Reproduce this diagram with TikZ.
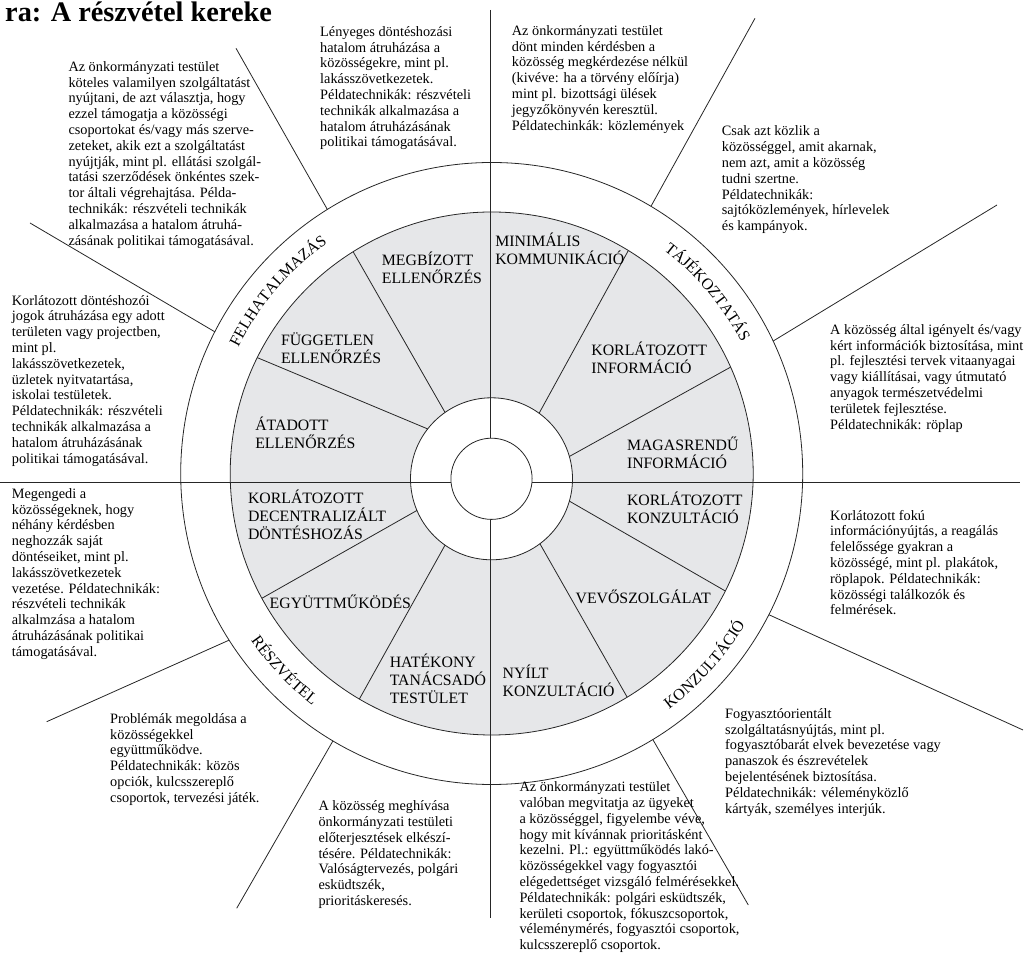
\documentclass[tikz,border=0pt]{standalone}
\usepackage{fontspec}
\setmainfont{Liberation Serif}
\usetikzlibrary{calc,decorations.text}
\definecolor{wheelgray}{RGB}{230,231,233}
\newcommand{\firstline}{\rule{0pt}{16pt}}
\newcommand{\ringfont}{\fontsize{16}{18}\selectfont}
\lineskiplimit=-\maxdimen
\begin{document}
\begin{tikzpicture}[x=1pt,y=1pt,
    wheel/.style={draw=black!85,line width=0.8pt},
    desc/.style={anchor=north west,inner sep=0pt,align=left,
      font=\fontsize{14.3}{15.8}\selectfont},
    seg/.style={anchor=north west,inner sep=0pt,align=left,
      font=\fontsize{15.8}{18}\selectfont}]
  \useasboundingbox (0,0) rectangle (1028,977);
  \coordinate (co) at (491.7,503.5);
  \coordinate (ci) at (491.5,498.2);
  % wheel
  \fill[wheelgray] (co) circle (261.5);
  \draw[wheel] (co) circle (261.5);
  \filldraw[wheel,fill=white] (ci) circle (81);
  \foreach \ra/\ga in {16/24, 54/58.5, 125/122, 142/153.7, 203/208.5,
                       235/239.6, 306.7/301.2, 344/333.3}
    \draw[wheel] ($(ci)+(\ra:81)$) -- ($(co)+(\ga:261.5)$);
  \draw[wheel] (co) circle (311);
  \foreach \a/\ex/\ey in {59.2/755/958.7, 25.2/997/772, -27/1023/247,
                          -58.8/748.3/72, 239.3/236.7/68.7, 212.4/46.7/255.3,
                          152.9/30/754, 121.9/236/928.7}
    \draw[wheel] ($(co)+(\a:311)$) -- (\ex,\ey);
  \draw[wheel] (490.7,967) -- (490.7,59);
  \draw[wheel] (0,495) -- (1020,495);
  \filldraw[wheel,fill=white] (ci) circle (40.6);
  % ring labels
  \path[decorate,decoration={text along path,text align=center,
      text={|\ringfont|FELHATALMAZÁS}}]
    ($(co)+(159.5:283)$) arc[start angle=159.5,end angle=119.5,radius=283];
  \path[decorate,decoration={text along path,text align=center,
      text={|\ringfont|TÁJÉKOZTATÁS}}]
    ($(co)+(60:282)$) arc[start angle=60,end angle=20,radius=282];
  \path[decorate,decoration={text along path,text align=center,
      text={|\ringfont|KONZULTÁCIÓ}}]
    ($(co)+(-61.9:295)$) arc[start angle=-61.9,end angle=-21.9,radius=295];
  \path[decorate,decoration={text along path,text align=center,
      text={|\ringfont|RÉSZVÉTEL}}]
    ($(co)+(203.5:293)$) arc[start angle=203.5,end angle=243.5,radius=293];
  % segment labels
  \node[seg] (s1) at (495.1,747) {\firstline MINIMÁLIS\\KOMMUNIKÁCIÓ};
  \node[seg] (s2) at (591.2,637.2) {\firstline KORLÁTOZOTT\\INFORMÁCIÓ};
  \node[seg] (s3) at (626.8,543) {\firstline MAGASRENDŰ\\INFORMÁCIÓ};
  \node[seg] (s4) at (626.8,487.9) {\firstline KORLÁTOZOTT\\KONZULTÁCIÓ};
  \node[seg] (s5) at (575.4,389.2) {\firstline VEVŐSZOLGÁLAT};
  \node[seg] (s6) at (502.5,314.6) {\firstline NYÍLT\\KONZULTÁCIÓ};
  \node[seg] (s7) at (389.6,326) {\firstline HATÉKONY\\TANÁCSADÓ\\TESTÜLET};
  \node[seg] (s8) at (269.5,384.2) {\firstline EGYÜTTMŰKÖDÉS};
  \node[seg] (s9) at (247.8,489.8) {\firstline KORLÁTOZOTT\\DECENTRALIZÁLT\\DÖNTÉSHOZÁS};
  \node[seg] (s10) at (255.1,562.2) {\firstline ÁTADOTT\\ELLENŐRZÉS};
  \node[seg] (s11) at (280.8,647.5) {\firstline FÜGGETLEN\\ELLENŐRZÉS};
  \node[seg] (s12) at (381.7,727.8) {\firstline MEGBÍZOTT\\ELLENŐRZÉS};
  % title
  \node[anchor=base west,inner sep=0pt,font=\fontsize{28.3}{32}\selectfont\bfseries]
    (title) at (5,955) {ra: A részvétel kereke};
  % descriptions
  \node[desc] (d1) at (68.3,921.8) {\firstline Az önkormányzati testület\\
    köteles valamilyen szolgáltatást\\
    nyújtani, de azt választja, hogy\\
    ezzel támogatja a közösségi\\
    csoportokat és/vagy más szerve-\\
    zeteket, akik ezt a szolgáltatást\\
    nyújtják, mint pl. ellátási szolgál-\\
    tatási szerződések önkéntes szek-\\
    tor általi végrehajtása. Példa-\\
    technikák: részvételi technikák\\
    alkalmazása a hatalom átruhá-\\
    zásának politikai támogatásával.};
  \node[desc] (d2) at (320,956.8) {\firstline Lényeges döntéshozási\\
    hatalom átruházása a\\
    közösségekre, mint pl.\\
    lakásszövetkezetek.\\
    Példatechnikák: részvételi\\
    technikák alkalmazása a\\
    hatalom átruházásának\\
    politikai támogatásával.};
  \node[desc] (d3) at (511.7,957.8) {\firstline Az önkormányzati testület\\
    dönt minden kérdésben a\\
    közösség megkérdezése nélkül\\
    (kivéve: ha a törvény előírja)\\
    mint pl. bizottsági ülések\\
    jegyzőkönyvén keresztül.\\
    Példatechinkák: közlemények};
  \node[desc] (d4) at (721.7,857.3) {\firstline Csak azt közlik a\\
    közösséggel, amit akarnak,\\
    nem azt, amit a közösség\\
    tudni szertne.\\
    Példatechnikák:\\
    sajtóközlemények, hírlevelek\\
    és kampányok.};
  \node[desc] (d5) at (830,658.8) {\firstline A közösség által igényelt és/vagy\\
    kért információk biztosítása, mint\\
    pl. fejlesztési tervek vitaanyagai\\
    vagy kiállításai, vagy útmutató\\
    anyagok természetvédelmi\\
    területek fejlesztése.\\
    Példatechnikák: röplap};
  \node[desc] (d6) at (830,473.1) {\firstline Korlátozott fokú\\
    információnyújtás, a reagálás\\
    felelőssége gyakran a\\
    közösségé, mint pl. plakátok,\\
    röplapok. Példatechnikák:\\
    közösségi találkozók és\\
    felmérések.};
  \node[desc] (d7) at (725,274.8) {\firstline Fogyasztóorientált\\
    szolgáltatásnyújtás, mint pl.\\
    fogyasztóbarát elvek bevezetése vagy\\
    panaszok és észrevételek\\
    bejelentésének biztosítása.\\
    Példatechnikák: véleményközlő\\
    kártyák, személyes interjúk.};
  \node[desc] (d8) at (519.3,201.5) {\firstline Az önkormányzati testület\\
    valóban megvitatja az ügyeket\\
    a közösséggel, figyelembe véve,\\
    hogy mit kívánnak prioritásként\\
    kezelni. Pl.: együttműködés lakó-\\
    közösségekkel vagy fogyasztói\\
    elégedettséget vizsgáló felmérésekkel.\\
    Példatechnikák: polgári esküdtszék,\\
    kerületi csoportok, fókuszcsoportok,\\
    véleménymérés, fogyasztói csoportok,\\
    kulcsszereplő csoportok.};
  \node[desc] (d9) at (318.3,182.5) {\firstline A közösség meghívása\\
    önkormányzati testületi\\
    előterjesztések elkészí-\\
    tésére. Példatechnikák:\\
    Valóságtervezés, polgári\\
    esküdtszék,\\
    prioritáskeresés.};
  \node[desc] (d10) at (110,269.8) {\firstline Problémák megoldása a\\
    közösségekkel\\
    együttműködve.\\
    Példatechnikák: közös\\
    opciók, kulcsszereplő\\
    csoportok, tervezési játék.};
  \node[desc] (d11) at (11.7,494.8) {\firstline Megengedi a\\
    közösségeknek, hogy\\
    néhány kérdésben\\
    neghozzák saját\\
    döntéseiket, mint pl.\\
    lakásszövetkezetek\\
    vezetése. Példatechnikák:\\
    részvételi technikák\\
    alkalmzása a hatalom\\
    átruházásának politikai\\
    támogatásával.};
  \node[desc] (d12) at (11.7,688.1) {\firstline Korlátozott döntéshozói\\
    jogok átruházása egy adott\\
    területen vagy projectben,\\
    mint pl.\\
    lakásszövetkezetek,\\
    üzletek nyitvatartása,\\
    iskolai testületek.\\
    Példatechnikák: részvételi\\
    technikák alkalmazása a\\
    hatalom átruházásának\\
    politikai támogatásával.};
\end{tikzpicture}
\end{document}
